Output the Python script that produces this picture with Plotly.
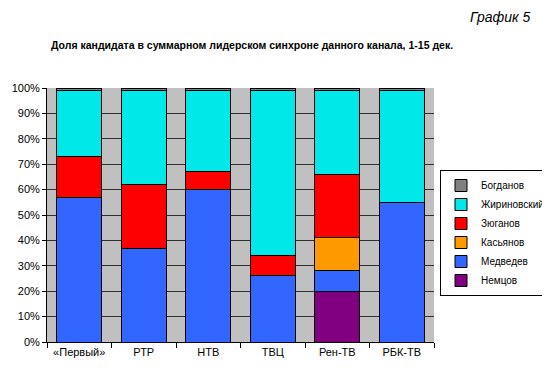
import plotly.graph_objects as go

categories = ["«Первый»", "РТР", "НТВ", "ТВЦ", "Рен-ТВ", "РБК-ТВ"]

# values in percent (stack order bottom -> top)
nemtsov     = [0, 0, 0, 0, 20, 0]
medvedev    = [57, 37, 60, 26, 8, 55]
kasyanov    = [0, 0, 0, 0, 13, 0]
zyuganov    = [16, 25, 7, 8, 25, 0]
zhirinovsky = [26, 37, 32, 65, 33, 44]
bogdanov    = [1, 1, 1, 1, 1, 1]

series = [
    ("Немцов", nemtsov, "#800080"),
    ("Медведев", medvedev, "#3366FF"),
    ("Касьянов", kasyanov, "#FF9900"),
    ("Зюганов", zyuganov, "#FF0000"),
    ("Жириновский", zhirinovsky, "#00E8E8"),
    ("Богданов", bogdanov, "#808080"),
]

W, H = 542, 367          # page has an 8px body margin
L, T, B, R = 39, 80, 334, 426
PW, PH = R - L, B - T

fig = go.Figure()
for name, vals, color in series:
    fig.add_trace(go.Bar(
        x=categories, y=vals, name=name,
        marker=dict(color=color, line=dict(color="#000000", width=1)),
    ))

fig.update_layout(
    barmode="stack",
    bargap=0.3,
    width=W, height=H,
    margin=dict(l=L, r=W - R, t=T, b=H - B, autoexpand=False),
    paper_bgcolor="white",
    plot_bgcolor="#C0C0C0",
    font=dict(family="Liberation Sans, Arial, sans-serif", size=11, color="black"),
    showlegend=True,
    legend=dict(
        xref="container", yref="container",
        x=(440 - 8) / W, y=1 - (170 - 8) / H, xanchor="left", yanchor="top",
        traceorder="reversed",
        bgcolor="white", bordercolor="black", borderwidth=1,
        font=dict(size=10),
        itemwidth=30, tracegroupgap=0,
    ),
    annotations=[
        dict(text="<b>Доля кандидата в суммарном лидерском синхроне данного канала, 1-15 дек.</b>",
             xref="paper", yref="paper", x=(244 - L) / PW, y=(B - 37) / PH,
             showarrow=False, font=dict(size=10.5), xanchor="center", yanchor="middle"),
        dict(text="<i>График 5</i>",
             xref="paper", yref="paper", x=(525 - L) / PW, y=(B - 9) / PH,
             showarrow=False, font=dict(size=14), xanchor="right", yanchor="middle"),
    ],
)

fig.update_yaxes(
    range=[0, 100], tickvals=list(range(0, 101, 10)),
    ticktext=[f"{v}%" for v in range(0, 101, 10)],
    showgrid=True, gridcolor="#303030", gridwidth=1,
    showline=True, linecolor="black", ticks="outside", ticklen=4, tickcolor="black",
    zeroline=False,
)
fig.update_xaxes(
    showline=True, linecolor="black", showgrid=False,
    ticks="outside", tickson="boundaries", ticklen=5, tickcolor="black",
)

fig.write_html("out.html")
